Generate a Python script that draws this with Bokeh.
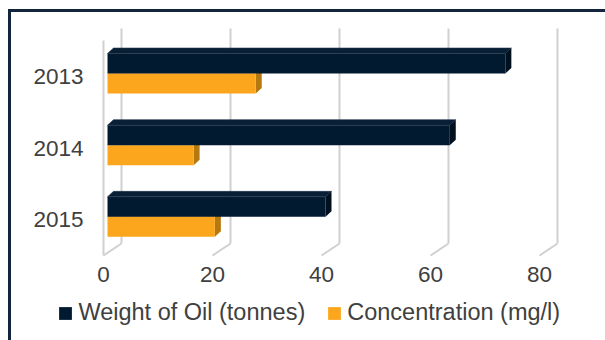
import numpy as np
from bokeh.plotting import figure
from bokeh.layouts import column
from bokeh.models import Range1d, FixedTicker, Legend, LegendItem
from bokeh.embed import file_html
from bokeh.resources import INLINE

# ---------------- data ----------------
years = ["2013", "2014", "2015"]
weight = [73.0, 62.8, 40.0]
concentration = [27.2, 15.8, 19.7]
x_ticks = [0, 20, 40, 60, 80]
series_names = ["Weight of Oil (tonnes)", "Concentration (mg/l)"]

# ---------------- styling / geometry (pixels) ----------------
W, H = 605, 340
H1 = 295                               # chart figure height, legend strip below
FL, FR, FT, FB = 90, 575, 20, 262      # frame edges
X0, SX = 103.0, 5.45                   # front-plane zero pixel and px per unit
YTOP, CAT = 40.0, 71.667               # front-plane top pixel and px per category
WDX, WDY = 18.0, 12.0                  # back-wall offset
BDX, BDY = 4.0, 2.8                    # bar front-face offset from front plane
DDX, DDY = 6.0, 5.5                    # bar depth
BAR_H = 20.0

NAVY, NAVY_TOP, NAVY_SIDE = "#021a30", "#081f36", "#01101f"
ORANGE, ORANGE_TOP, ORANGE_SIDE = "#fba61c", "#f0b040", "#b5790f"
GRID = "#d0d0d0"
TEXT = "#404040"
BORDER = "#13253a"
FONT = "Liberation Sans"

n = len(years)
ux = lambda px: px / SX
uy = lambda px: px / CAT

x_start = (FL - X0) / SX
x_end = (FR - X0) / SX
y_end = (n - 0.5) + uy(YTOP - FT)
y_start = -0.5 - uy(FB - (YTOP + n * CAT))

vbar_bg = f"linear-gradient({BORDER},{BORDER}) 8px 0px / 3px 100% no-repeat"
p = figure(width=W, height=H1, output_backend="svg", toolbar_location=None,
           x_range=Range1d(x_start, x_end), y_range=Range1d(y_start, y_end),
           min_border_left=FL, min_border_right=W - FR,
           min_border_top=FT, min_border_bottom=H1 - FB)
p.frame_align = False
p.outline_line_color = None
p.grid.visible = False
p.background_fill_color = "white"
p.border_fill_alpha = 0
# outer chart border (only its top and left edges fall inside the window)
p.styles = {
    "background": (f"linear-gradient({BORDER},{BORDER}) 8px 9px / 3px 100% no-repeat, "
                   f"linear-gradient({BORDER},{BORDER}) 8px 9px / 100% 3px no-repeat, white"),
}

# ---------------- walls / gridlines ----------------
ybot, ytop = -0.5, n - 0.5
bx = [t + ux(WDX) for t in x_ticks]
p.segment(x0=bx, y0=[ybot + uy(WDY)] * len(bx), x1=bx, y1=[ytop + uy(WDY)] * len(bx),
          line_color=GRID, line_width=2)
p.segment(x0=x_ticks, y0=[ybot] * len(x_ticks), x1=bx, y1=[ybot + uy(WDY)] * len(bx),
          line_color=GRID, line_width=2)
p.segment(x0=[x_ticks[0]], y0=[ybot], x1=[x_ticks[0]], y1=[ytop],
          line_color=GRID, line_width=2)

# ---------------- bars ----------------
yc = [n - 1 - i for i in range(n)]
left = ux(BDX)
navy_c = [y + uy(BDY + BAR_H / 2) for y in yc]
orng_c = [y + uy(BDY - BAR_H / 2) for y in yc]


def faces(values, centers):
    tops, sides = ([], []), ([], [])
    dx, dy, hh = ux(DDX), uy(DDY), uy(BAR_H / 2)
    for v, c in zip(values, centers):
        r = left + v
        t, b = c + hh, c - hh
        tops[0].append([left, r, r + dx, left + dx])
        tops[1].append([t, t, t + dy, t + dy])
        sides[0].append([r, r + dx, r + dx, r])
        sides[1].append([t, t + dy, b + dy, b])
    return tops, sides


o_tops, o_sides = faces(concentration, orng_c)
p.patches(xs=o_tops[0], ys=o_tops[1], fill_color=ORANGE_TOP, line_color=None)
p.patches(xs=o_sides[0], ys=o_sides[1], fill_color=ORANGE_SIDE, line_color=None)
p.hbar(y=orng_c, left=left, right=[left + v for v in concentration],
       height=uy(BAR_H), fill_color=ORANGE, line_color=None)

n_tops, n_sides = faces(weight, navy_c)
p.hbar(y=navy_c, left=left, right=[left + v for v in weight],
       height=uy(BAR_H), fill_color=NAVY, line_color=None)
p.patches(xs=n_tops[0], ys=n_tops[1], fill_color=NAVY_TOP, line_color="#1f3247",
          line_width=0.6)
p.patches(xs=n_sides[0], ys=n_sides[1], fill_color=NAVY_SIDE, line_color=None)

# ---------------- axes ----------------
xa = p.xaxis[0]
xa.ticker = FixedTicker(ticks=x_ticks)
xa.axis_line_color = None
xa.major_tick_line_color = None
xa.minor_tick_line_color = None
xa.major_tick_in = 0
xa.major_tick_out = 0
xa.major_label_standoff = 4
xa.major_label_text_font = FONT
xa.major_label_text_font_size = "22.5px"
xa.major_label_text_color = TEXT

ya = p.yaxis[0]
ya.ticker = FixedTicker(ticks=yc)
ya.major_label_overrides = {y: lab for y, lab in zip(yc, years)}
ya.axis_line_color = None
ya.major_tick_line_color = None
ya.minor_tick_line_color = None
ya.major_tick_in = 0
ya.major_tick_out = 0
ya.major_label_standoff = 7
ya.major_label_text_font = FONT
ya.major_label_text_font_size = "22.5px"
ya.major_label_text_color = TEXT

# ---------------- legend strip ----------------
H2 = H - H1
q = figure(width=W, height=H2, output_backend="svg", toolbar_location=None,
           x_range=Range1d(0, 1), y_range=Range1d(0, 1),
           x_axis_location=None, y_axis_location=None,
           min_border=0)
q.frame_align = False
q.outline_line_color = None
q.grid.visible = False
q.background_fill_alpha = 0
q.border_fill_alpha = 0
q.styles = {"background": f"{vbar_bg}, white"}
k_weight = q.hbar(y=[5], left=[5], right=[6], height=0.5, fill_color=NAVY, line_color=None)
k_conc = q.hbar(y=[5], left=[5], right=[6], height=0.5, fill_color=ORANGE, line_color=None)
legend = Legend(items=[LegendItem(label=series_names[0], renderers=[k_weight]),
                       LegendItem(label=series_names[1], renderers=[k_conc])],
                orientation="horizontal", location=(57.4, 14.0),
                glyph_width=16, glyph_height=16, label_standoff=5, spacing=21,
                padding=0, margin=0, border_line_alpha=0, background_fill_alpha=0,
                label_text_font=FONT, label_text_font_size="23.5px",
                label_text_color=TEXT)
q.add_layout(legend, "center")

layout = column(p, q, spacing=0)
open("out.html", "w").write(file_html(layout, INLINE))
